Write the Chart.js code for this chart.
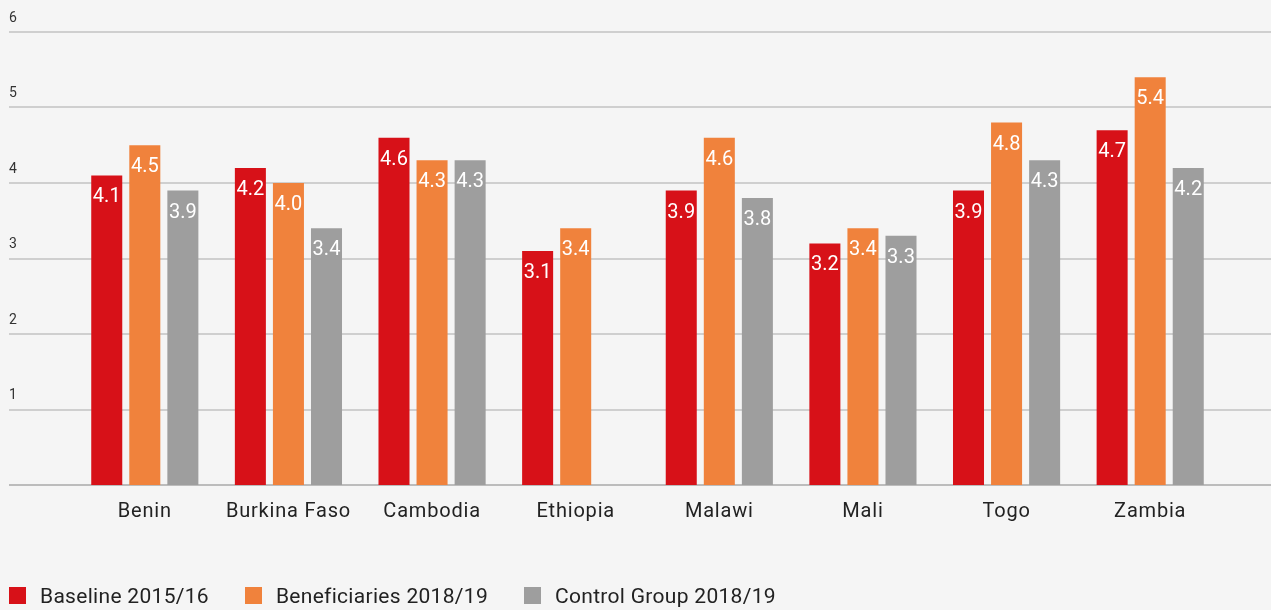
<!DOCTYPE html>
<html>
<head>
<meta charset="utf-8">
<script src="https://cdn.jsdelivr.net/npm/chart.js@4"></script>
<style>
  html, body { margin: 0; padding: 0; background: #f5f5f5; }
  #wrap { position: relative; width: 1271px; height: 610px; }
  canvas { display: block; }
  #legend { position: absolute; left: 9px; top: 584px; font: 21px Roboto, sans-serif; letter-spacing: 0.3px; color: #222; white-space: nowrap; }
  #legend span.item { display: inline-block; margin-right: 36px; }
  #legend i { display: inline-block; width: 17px; height: 17px; margin-right: 14px; vertical-align: -1px; }
</style>
</head>
<body>
<div id="wrap">
  <canvas id="chart" width="1271" height="610"></canvas>
  <div id="legend"></div>
</div>
<script>
var countries = ['Benin', 'Burkina Faso', 'Cambodia', 'Ethiopia', 'Malawi', 'Mali', 'Togo', 'Zambia'];
var baseline = [4.1, 4.2, 4.6, 3.1, 3.9, 3.2, 3.9, 4.7];
var beneficiaries = [4.5, 4.0, 4.3, 3.4, 4.6, 3.4, 4.8, 5.4];
var control = [3.9, 3.4, 4.3, null, 3.8, 3.3, 4.3, 4.2];
var seriesNames = ['Baseline 2015/16', 'Beneficiaries 2018/19', 'Control Group 2018/19'];
var seriesColors = ['#d71118', '#f0823c', '#9e9e9e'];
var yTicks = [0, 1, 2, 3, 4, 5, 6];

var FONT = 'Roboto, sans-serif';

// horizontal lines across the whole width, behind the bars
const fullGrid = {
  id: 'fullGrid',
  beforeDraw(chart) {
    chart.ctx.letterSpacing = '0.8px';
  },
  beforeDatasetsDraw(chart) {
    const ctx = chart.ctx;
    const y = chart.scales.y;
    ctx.save();
    yTicks.forEach(function (t) {
      const py = Math.round(y.getPixelForValue(t));
      ctx.strokeStyle = t === 0 ? '#a9a9a9' : '#c2c2c2';
      ctx.lineWidth = 1.5;
      ctx.beginPath();
      ctx.moveTo(9, py);
      ctx.lineTo(chart.width, py);
      ctx.stroke();
    });
    ctx.restore();
  }
};

// white value labels inside the top of each bar
const barLabels = {
  id: 'barLabels',
  afterDatasetsDraw(chart) {
    const ctx = chart.ctx;
    ctx.save();
    ctx.letterSpacing = '0px';
    ctx.fillStyle = '#ffffff';
    ctx.font = '20px ' + FONT;
    ctx.textAlign = 'center';
    ctx.textBaseline = 'middle';
    chart.data.datasets.forEach(function (ds, i) {
      chart.getDatasetMeta(i).data.forEach(function (bar, j) {
        const v = ds.data[j];
        if (v === null || v === undefined) return;
        ctx.fillText(v.toFixed(1), bar.x, bar.y + 22);
      });
    });
    ctx.restore();
  }
};

var datasets = [baseline, beneficiaries, control].map(function (d, i) {
  return { label: seriesNames[i], data: d, backgroundColor: seriesColors[i] };
});

new Chart(document.getElementById('chart'), {
  type: 'bar',
  data: { labels: countries, datasets: datasets },
  options: {
    responsive: false,
    animation: false,
    categoryPercentage: 0.795,
    barPercentage: 0.815,
    layout: { padding: { left: 9, right: 49, top: 32, bottom: 0 } },
    plugins: {
      tooltip: { enabled: false },
      legend: { display: false }
    },
    scales: {
      x: {
        grid: { display: false },
        border: { display: false },
        ticks: { color: '#222', font: { family: FONT, size: 20 }, padding: 7 },
        afterFit: function (s) { s.height = 125; }
      },
      y: {
        min: 0,
        max: 6,
        afterBuildTicks: function (s) { s.ticks = yTicks.map(function (v) { return { value: v }; }); },
        grid: { display: false },
        border: { display: false },
        ticks: {
          crossAlign: 'far',
          labelOffset: -14,
          color: '#333',
          font: { family: FONT, size: 14 },
          callback: function (v) { return v === 0 ? '' : v; }
        },
        afterFit: function (s) { s.width = 64; }
      }
    }
  },
  plugins: [fullGrid, barLabels]
});

document.getElementById('legend').innerHTML = seriesNames.map(function (n, i) {
  return '<span class="item"><i style="background:' + seriesColors[i] + '"></i>' + n + '</span>';
}).join('');
</script>
</body>
</html>
